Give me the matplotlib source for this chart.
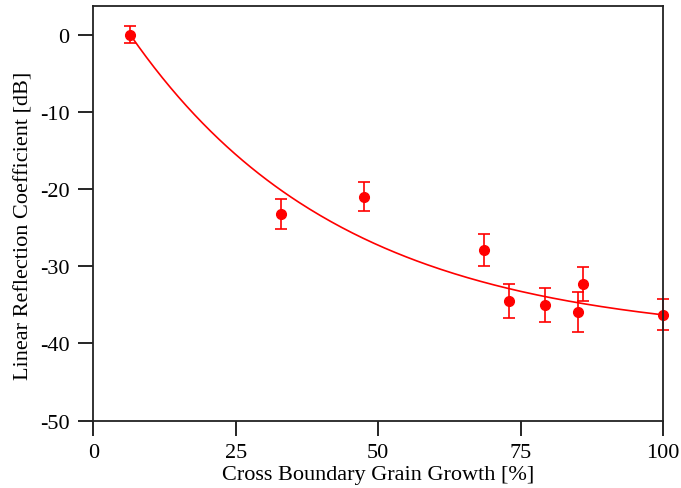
import numpy as np
import matplotlib.pyplot as plt

plt.rcParams['font.family'] = ['Liberation Serif', 'DejaVu Serif']
plt.rcParams['axes.unicode_minus'] = False

# measured points
growth = [6.5, 32.9, 47.6, 68.5, 72.9, 79.3, 85.1, 85.9, 100.0]
refl = [0.0, -23.2, -21.0, -27.9, -34.5, -35.0, -35.9, -32.3, -36.3]
refl_err = [1.1, 1.95, 1.9, 2.1, 2.15, 2.2, 2.6, 2.2, 2.0]

# exponential fit parameters
fit_amp = -39.46
fit_rate = 0.027
fit_x0 = 6.5

xfit = np.linspace(fit_x0, 100, 200)
yfit = fit_amp * (1 - np.exp(-fit_rate * (xfit - fit_x0)))

fig = plt.figure(figsize=(6.81, 4.89), dpi=100)
ax = fig.add_axes([0.137, 0.138, 0.8366, 0.847])

ax.plot(xfit, yfit, color='red', lw=1.2, clip_on=False)
ax.errorbar(growth, refl, yerr=refl_err, fmt='o', color='red', ms=7,
            capsize=4.5, elinewidth=1.2, capthick=1.2, clip_on=False)

ax.set_xlim(0, 100)
ax.set_ylim(-50, 3.7)
ax.set_xticks([0, 25, 50, 75, 100])
ax.set_yticks([0, -10, -20, -30, -40, -50])
ax.tick_params(direction='out', length=11, width=1.2, labelsize=16,
               top=False, right=False, colors='black')
ax.tick_params(axis='x', pad=5)
ax.tick_params(axis='y', pad=6)
for s in ax.spines.values():
    s.set_linewidth(1.3)
    s.set_color('#222222')

ax.set_xlabel('Cross Boundary Grain Growth [%]', fontsize=16, labelpad=2)
ax.set_ylabel('Linear Reflection Coefficient [dB]', fontsize=16)
ax.yaxis.set_label_coords(-0.105, 0.473)

fig.savefig('out.png', dpi=100)
